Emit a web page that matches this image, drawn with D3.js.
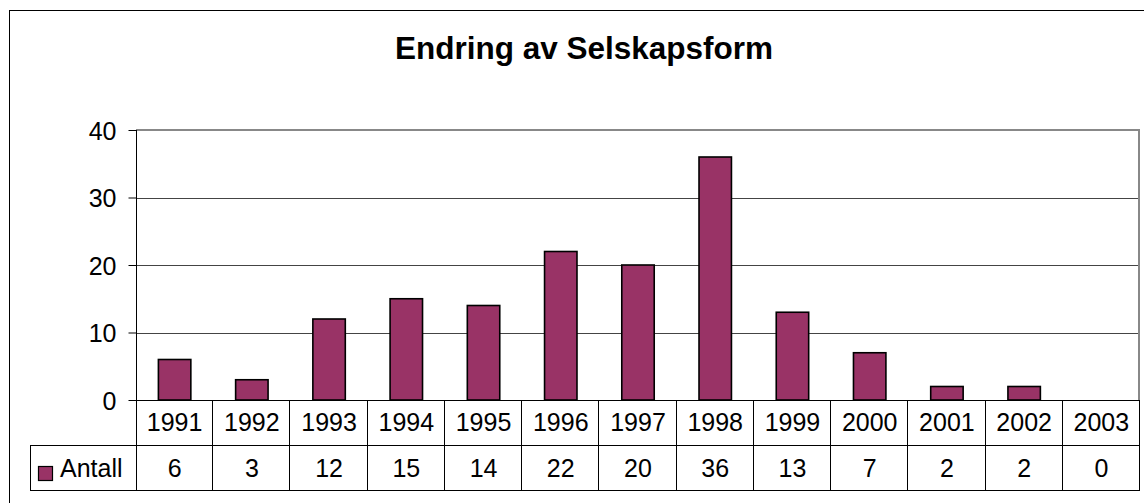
<!DOCTYPE html>
<html>
<head>
<meta charset="utf-8">
<script src="https://d3js.org/d3.v7.min.js"></script>
<style>
  body { margin: 0; background: #fff; }
  text { font-family: Arial, 'Liberation Sans', sans-serif; fill: #000; }
</style>
</head>
<body>
<div id="chart"></div>
<script>
// data
const years = ['1991','1992','1993','1994','1995','1996','1997','1998','1999','2000','2001','2002','2003']
const antall = [6, 3, 12, 15, 14, 22, 20, 36, 13, 7, 2, 2, 0]
const yTicks = [0, 10, 20, 30, 40]
const seriesName = 'Antall'
const title = 'Endring av Selskapsform'

const width = 1144
const height = 503
const barColor = '#993366'

// plot area
const pLeft = 136
const pRight = 1140
const pTop = 130
const pBottom = 400
const rowH = 45

const svg = d3.select('#chart')
  .append('svg')
  .attr('width', width)
  .attr('height', height)

// outer chart border
svg.append('rect')
  .attr('x', 9.5).attr('y', 10.5)
  .attr('width', 1150).attr('height', 510)
  .attr('fill', 'none')
  .attr('stroke', '#000')

svg.append('text')
  .attr('x', 584)
  .attr('y', 59)
  .attr('text-anchor', 'middle')
  .attr('font-size', '31.5px')
  .attr('font-weight', 'bold')
  .text(title)

const xScale = d3.scaleBand()
  .domain(years)
  .range([pLeft, pRight])

const yScale = d3.scaleLinear()
  .domain([0, 40])
  .range([pBottom, pTop])

// gridlines
svg.append('g')
  .selectAll('line')
  .data(yTicks.filter(d => d > 0))
  .join('line')
  .attr('x1', pLeft).attr('x2', pRight)
  .attr('y1', d => Math.round(yScale(d)) + 0.5)
  .attr('y2', d => Math.round(yScale(d)) + 0.5)
  .attr('stroke', '#444')

// plot area border (top + right)
svg.append('path')
  .attr('d', `M${pLeft},${pTop} H${pRight - 1} V${pBottom}`)
  .attr('fill', 'none')
  .attr('stroke', '#888')
  .attr('stroke-width', 2)

// bars
const bw = xScale.bandwidth() * 0.42
svg.append('g')
  .selectAll('rect')
  .data(antall.map((v, i) => ({ year: years[i], value: v })).filter(d => d.value > 0))
  .join('rect')
  .attr('x', d => xScale(d.year) + xScale.bandwidth() / 2 - bw / 2)
  .attr('y', d => yScale(d.value))
  .attr('width', bw)
  .attr('height', d => yScale(0) - yScale(d.value))
  .attr('fill', barColor)
  .attr('stroke', '#000')
  .attr('stroke-width', 1.6)

// y axis
const yAxis = d3.axisLeft(yScale)
  .tickValues(yTicks)
  .tickSize(8)
  .tickPadding(12)
  .tickFormat(d3.format('d'))

const gy = svg.append('g')
  .attr('transform', `translate(${pLeft + 0.5},0)`)
  .call(yAxis)
gy.select('.domain').remove()
gy.selectAll('text')
  .attr('font-size', '25px')
  .attr('font-family', "Arial, 'Liberation Sans', sans-serif")
  .attr('fill', '#000')
  .attr('dy', '0.36em')
gy.selectAll('line').attr('stroke', '#000')

// axis line down through the table
svg.append('line')
  .attr('x1', pLeft + 0.5).attr('x2', pLeft + 0.5)
  .attr('y1', pTop).attr('y2', pBottom + 2 * rowH)
  .attr('stroke', '#000')

// data table
const table = svg.append('g').attr('stroke', '#000')
const hLines = [pBottom, pBottom + rowH, pBottom + 2 * rowH]
table.selectAll('line.h')
  .data(hLines)
  .join('line')
  .attr('class', 'h')
  .attr('x1', (d, i) => i === 0 ? pLeft : 30)
  .attr('x2', pRight)
  .attr('y1', d => d + 0.5).attr('y2', d => d + 0.5)

table.selectAll('line.v')
  .data(years)
  .join('line')
  .attr('class', 'v')
  .attr('x1', d => Math.round(xScale(d) + xScale.bandwidth()) - 0.5)
  .attr('x2', d => Math.round(xScale(d) + xScale.bandwidth()) - 0.5)
  .attr('y1', pBottom).attr('y2', pBottom + 2 * rowH)

table.append('line')
  .attr('x1', 30.5).attr('x2', 30.5)
  .attr('y1', pBottom + rowH).attr('y2', pBottom + 2 * rowH)

svg.append('g')
  .selectAll('text')
  .data(years)
  .join('text')
  .attr('x', d => xScale(d) + xScale.bandwidth() / 2)
  .attr('y', pBottom + 31)
  .attr('text-anchor', 'middle')
  .attr('font-size', '25px')
  .text(d => d)

svg.append('g')
  .selectAll('text')
  .data(antall)
  .join('text')
  .attr('x', (d, i) => xScale(years[i]) + xScale.bandwidth() / 2)
  .attr('y', pBottom + rowH + 32)
  .attr('text-anchor', 'middle')
  .attr('font-size', '25px')
  .text(d => d)

// legend key in table
svg.append('rect')
  .attr('x', 38.5).attr('y', 466.5)
  .attr('width', 14).attr('height', 14)
  .attr('fill', barColor)
  .attr('stroke', '#000')
  .attr('stroke-width', 1.2)

svg.append('text')
  .attr('x', 60)
  .attr('y', pBottom + rowH + 32)
  .attr('font-size', '25px')
  .text(seriesName)
</script>
</body>
</html>
